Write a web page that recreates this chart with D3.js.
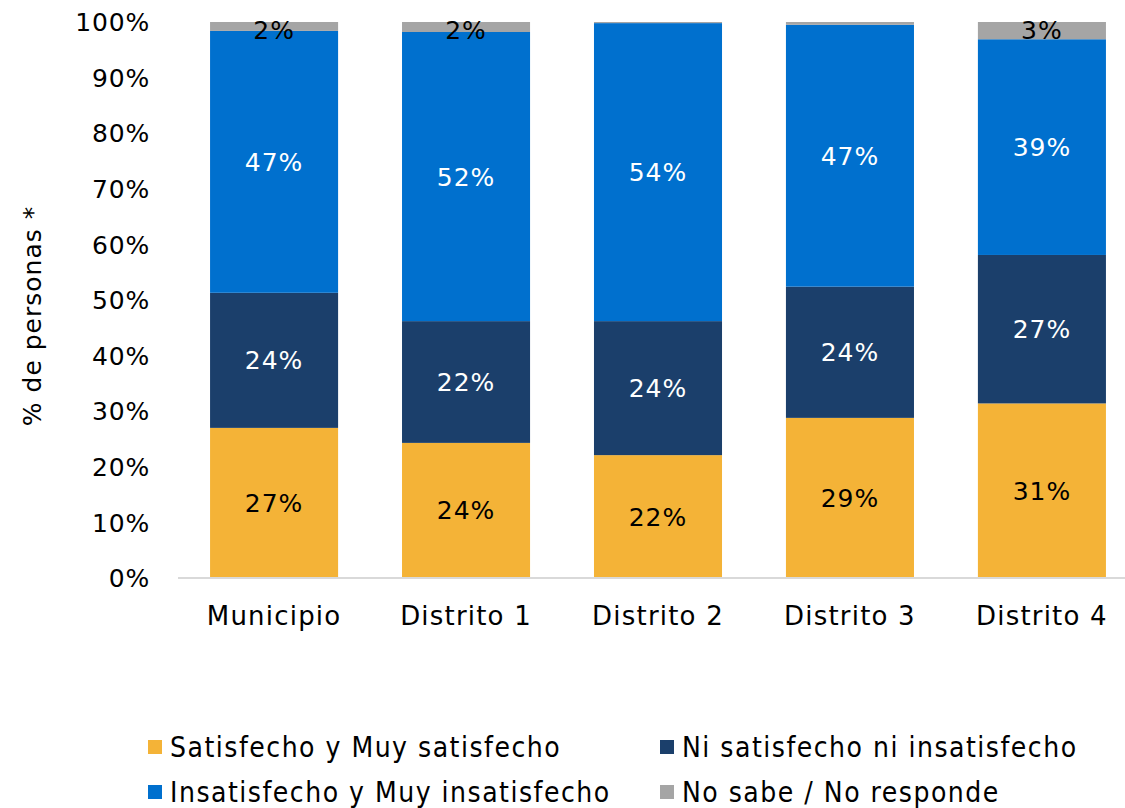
<!DOCTYPE html>
<html lang="es">
<head>
<meta charset="UTF-8">
<title>Satisfacción por distrito</title>
<script src="https://d3js.org/d3.v7.min.js"></script>
<style>
    body { margin: 0; background: #fff; }
    svg text { font-family: "DejaVu Sans", sans-serif; fill: #000; }
    .yaxis text { font-size: 25px; letter-spacing: 0.8px; }
    .xaxis text { font-size: 26px; letter-spacing: 1.2px; }
    .vals text { font-size: 25px; letter-spacing: 1px; }
    .ytitle { font-size: 25px; letter-spacing: 1px; }
    .legend text { font-stretch: condensed; font-size: 28px; letter-spacing: 1.5px; }
</style>
</head>
<body>
<svg width="1125" height="808"></svg>
<script>
    // categories and series (percent of people)
    const categories = ["Municipio", "Distrito 1", "Distrito 2", "Distrito 3", "Distrito 4"];
    const seriesNames = ["Satisfecho y Muy satisfecho", "Ni satisfecho ni insatisfecho",
                         "Insatisfecho y Muy insatisfecho", "No sabe / No responde"];
    const satisfecho = [27.0, 24.3, 22.1, 28.8, 31.4];
    const neutral    = [24.3, 21.9, 24.1, 23.6, 26.7];
    const insatisf   = [47.1, 52.0, 53.6, 47.1, 38.8];
    const noSabe     = [1.6, 1.8, 0.2, 0.5, 3.1];
    const yTicks = [0, 10, 20, 30, 40, 50, 60, 70, 80, 90, 100];

    const colors = ["#F4B337", "#1B3F6B", "#0070CE", "#A5A5A5"];
    const labelColors = ["#000", "#fff", "#fff", "#000"];

    const rows = categories.map((c, i) => ({
        cat: c, s0: satisfecho[i], s1: neutral[i], s2: insatisf[i], s3: noSabe[i]
    }));
    const keys = ["s0", "s1", "s2", "s3"];
    const stacked = d3.stack().keys(keys)(rows);

    const svg = d3.select("svg");
    const x = d3.scaleBand().domain(categories).range([178, 1138]).paddingInner(0.333).paddingOuter(0.167);
    const y = d3.scaleLinear().domain([0, 100]).range([578, 22]);

    // bars
    svg.append("g").selectAll("g")
        .data(stacked).join("g")
        .attr("fill", (d, i) => colors[i])
        .selectAll("rect")
        .data(d => d).join("rect")
        .attr("x", d => x(d.data.cat))
        .attr("width", x.bandwidth())
        .attr("y", d => y(d[1]))
        .attr("height", d => y(d[0]) - y(d[1]));

    // value labels
    const vals = svg.append("g").attr("class", "vals");
    stacked.forEach((layer, k) => {
        vals.append("g").selectAll("text")
            .data(layer.filter(d => Math.round(d[1] - d[0]) >= 2)).join("text")
            .attr("x", d => x(d.data.cat) + x.bandwidth() / 2)
            .attr("y", d => k === 3 ? y(d[1]) + 17 : y((d[0] + d[1]) / 2) + 9)
            .attr("text-anchor", "middle")
            .style("fill", labelColors[k])
            .text(d => Math.round(d[1] - d[0]) + "%");
    });

    // axes
    const yAxis = svg.append("g").attr("class", "yaxis").attr("transform", "translate(150,0)")
        .call(d3.axisLeft(y).tickValues(yTicks).tickFormat(d => d + "%").tickSize(0).tickPadding(0));
    yAxis.select(".domain").remove();
    yAxis.selectAll("text").attr("dy", "0.35em");

    const xAxis = svg.append("g").attr("class", "xaxis").attr("transform", "translate(0,578)")
        .call(d3.axisBottom(x).tickSize(0).tickPadding(29));
    xAxis.select(".domain").attr("stroke", "#D9D9D9").attr("stroke-width", 2).attr("d", "M178,0H1125");

    svg.append("text")
        .attr("class", "ytitle")
        .attr("transform", "translate(41,316) rotate(-90)")
        .attr("text-anchor", "middle")
        .text("% de personas *");

    // legend
    const legPos = [[148, 748], [660, 748], [148, 793], [660, 793]];
    const legend = svg.append("g").attr("class", "legend")
        .selectAll("g").data(seriesNames).join("g")
        .attr("transform", (d, i) => `translate(${legPos[i][0]},${legPos[i][1]})`);
    legend.append("rect").attr("x", 0).attr("y", -8).attr("width", 14).attr("height", 14)
        .attr("fill", (d, i) => colors[i]);
    legend.append("text").attr("x", 22).attr("y", 9).text(d => d);
</script>
</body>
</html>
